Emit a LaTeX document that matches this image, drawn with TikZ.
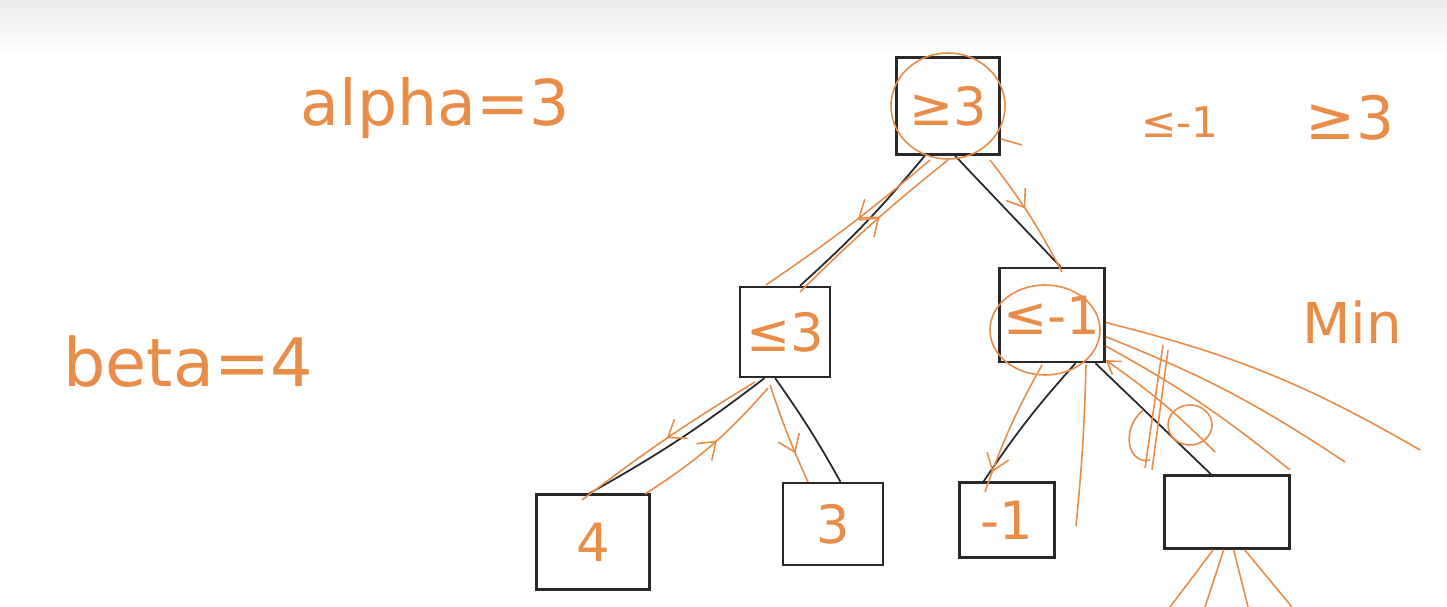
\documentclass[tikz,border=0pt]{standalone}
\usepackage{fontspec}
\setmainfont{DejaVu Sans}
\usetikzlibrary{arrows.meta,decorations.markings,calc}
\definecolor{pen}{RGB}{232,140,72}
\definecolor{ink}{RGB}{40,40,40}
\begin{document}
\begin{tikzpicture}[x=0.02cm,y=-0.02cm,
  box/.style={draw=ink,line width=1.4pt,inner sep=0pt,text=pen,font=\fontsize{30}{34}\selectfont},
  edge/.style={draw=ink,line width=1pt},
  stroke/.style={draw=pen,line width=0.9pt},
  midarrow/.style={stroke,postaction={decorate},decoration={markings,mark=at position #1 with {\arrow{Straight Barb[length=9pt,width=13pt]}}}},
  midarrow/.default=0.5,
  note/.style={text=pen,inner sep=0pt}
]
\useasboundingbox (0,0) rectangle (1447,607);
\fill[white] (0,0) rectangle (1447,607);
\shade[top color=black!8,bottom color=white] (0,0) rectangle (1447,55);

% tree nodes
\node[box,minimum width=2.06cm,minimum height=1.94cm] (root) at (948,106) {≥3};
\node[box,minimum width=1.8cm,minimum height=1.8cm] (lm) at (785,332) {≤3};
\node[box,minimum width=2.1cm,minimum height=1.88cm] (rm) at (1052,315) {≤-1};
\node[box,minimum width=2.26cm,minimum height=1.9cm] (l4) at (593,542) {4};
\node[box,minimum width=2cm,minimum height=1.64cm] (l3) at (833,524) {3};
\node[box,minimum width=1.9cm,minimum height=1.5cm] (lm1) at (1007,520) {-1};
\node[box,minimum width=2.5cm,minimum height=1.46cm] (le) at (1227,512) {};

% black edges
\draw[edge] (root.245) to[bend left=4] (lm.72);
\draw[edge] (root.278) -- (rm.80);
\draw[edge] (lm.246) to[bend left=4] (l4.94);
\draw[edge] (lm.258) to[bend left=3] (l3.80);
\draw[edge] (rm.296) to[bend right=4] (lm1.121);
\draw[edge] (rm.312) -- (le.113);

% orange circles
\draw[stroke] (root.center) ellipse [x radius=57, y radius=53];
\draw[stroke] ($(rm.center)+(-7,15)$) ellipse [x radius=55, y radius=45];

% orange traversal arrows
\coordinate (a1) at (930,160); \coordinate (a2) at (766,285);
\draw[midarrow=0.45] (a1) to[bend left=3] (a2);
\coordinate (b1) at (800,292); \coordinate (b2) at (948,160);
\draw[midarrow=0.55] (b1) to[bend left=3] (b2);
\coordinate (c1) at (990,160); \coordinate (c2) at (1062,272);
\draw[midarrow=0.45] (c1) to[bend left=5] (c2);
\coordinate (d1) at (755,382); \coordinate (d2) at (582,500);
\draw[midarrow=0.5] (d1) to[bend right=3] (d2);
\coordinate (e1) at (645,494); \coordinate (e2) at (768,388);
\draw[midarrow=0.55] (e1) to[bend right=8] (e2);
\coordinate (f1) at (770,385); \coordinate (f2) at (808,482);
\draw[midarrow=0.7] (f1) to[bend right=3] (f2);
\coordinate (g1) at (1042,365); \coordinate (g2) at (985,492);
\draw[midarrow=0.85] (g1) to[bend right=5] (g2);
\coordinate (h1) at (1086,365); \coordinate (h2) at (1076,526);
\draw[stroke] (h1) to[bend left=2] (h2);
\coordinate (tk) at (1022,145);
\draw[stroke] (root.-32) -- (tk);

% fan of pruned branches from rm
\coordinate (p1) at (1420,450);
\coordinate (p2) at (1345,462);
\coordinate (p3) at (1290,470);
\coordinate (p4) at (1215,452);
\draw[stroke] (rm.-8) to[bend left=8] (p1);
\draw[stroke] (rm.-22) to[bend left=6] (p2);
\draw[stroke] (rm.-30) to[bend left=5] (p3);
\draw[stroke,-{Straight Barb[length=7pt,width=9pt]}] (p4) to[bend right=5] (rm.-40);

% scribble
\coordinate (s1) at (1163,345); \coordinate (s2) at (1145,468);
\coordinate (s3) at (1168,350); \coordinate (s4) at (1152,470);
\draw[stroke] (s1) -- (s2);
\draw[stroke] (s3) -- (s4);
\draw[stroke] (1190,425) ellipse [x radius=22, y radius=20];
\draw[stroke] (1143,410) .. controls (1120,430) and (1128,465) .. (1150,460);

% fan below empty leaf
\coordinate (q1) at (1170,607); \coordinate (q2) at (1205,607);
\coordinate (q3) at (1248,607); \coordinate (q4) at (1292,607);
\draw[stroke] (le.-110) -- (q1);
\draw[stroke] (le.-95) -- (q2);
\draw[stroke] (le.-80) -- (q3);
\draw[stroke] (le.-65) -- (q4);

% texts
\node[note,font=\fontsize{36}{40}\selectfont] (alpha) at (435,108) {alpha=3};
\node[note,font=\fontsize{38}{42}\selectfont] (beta) at (188,362) {beta=4};
\node[note,font=\fontsize{24}{28}\selectfont] (t1) at (1180,122) {≤-1};
\node[note,font=\fontsize{34}{38}\selectfont] (t2) at (1350,118) {≥3};
\node[note,font=\fontsize{32}{36}\selectfont] (mn) at (1352,322) {Min};
\end{tikzpicture}
\end{document}
